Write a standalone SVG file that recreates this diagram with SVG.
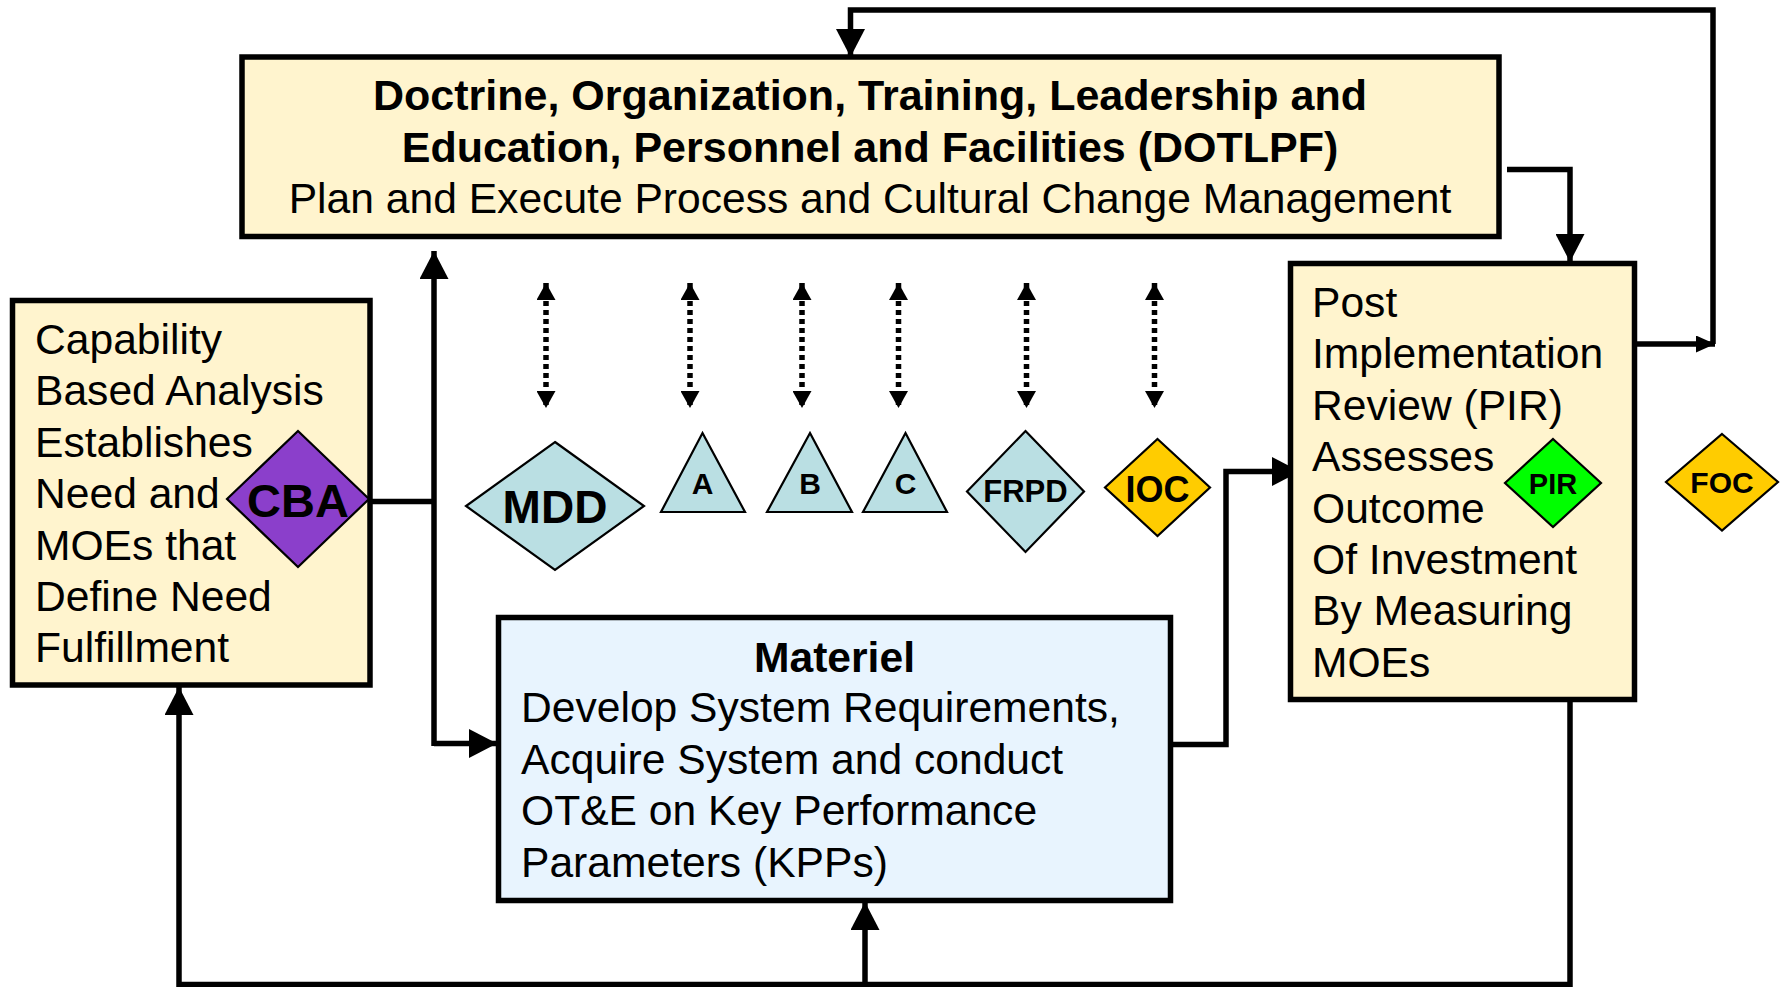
<svg xmlns="http://www.w3.org/2000/svg" width="1784" height="987" viewBox="0 0 1784 987">
<defs>
<marker id="ah" markerUnits="userSpaceOnUse" markerWidth="29" markerHeight="29" refX="28" refY="14.5" orient="auto" viewBox="0 0 29 29">
<path d="M0,0 L28,14.5 L0,29 z" fill="#000"/>
</marker>
<marker id="ahs" markerUnits="userSpaceOnUse" markerWidth="19" markerHeight="17" refX="19" refY="8.5" orient="auto" viewBox="0 0 19 17">
<path d="M0,0 L19,8.5 L0,17 z" fill="#000"/>
</marker>
<marker id="ahd" markerUnits="userSpaceOnUse" markerWidth="18" markerHeight="19" refX="17" refY="9.5" orient="auto-start-reverse" viewBox="0 0 18 19">
<path d="M0,0 L17,9.5 L0,19 z" fill="#000"/>
</marker>
<style>
.box{stroke:#000;stroke-width:5.5}
.cream{fill:#FFF4CE}
.blue{fill:#E8F4FE}
.con{fill:none;stroke:#000;stroke-width:5.5;stroke-linejoin:miter}
.dot{fill:none;stroke:#000;stroke-width:5.5;stroke-dasharray:5 4}
.sh{stroke:#000;stroke-width:2.2}
.teal{fill:#BADFE3}
.gold{fill:#FFCC00}
.t{font-family:"Liberation Sans",Arial,sans-serif;font-size:42.6px;fill:#000}
.b{font-family:"Liberation Sans",Arial,sans-serif;font-weight:bold;fill:#000;text-anchor:middle}
</style>
</defs>
<rect width="1784" height="987" fill="#fff"/>
<g id="connectors">
<path class="con" d="M1713,344 V10 H850.5 V57" marker-end="url(#ah)"/>
<path class="con" d="M1636,344 H1715" marker-end="url(#ahs)"/>
<path class="con" d="M1507,169.5 H1570 V262" marker-end="url(#ah)"/>
<path class="con" d="M369,501.5 H434"/>
<path class="con" d="M434,746 V251" marker-end="url(#ah)"/>
<path class="con" d="M434,743.5 H497" marker-end="url(#ah)"/>
<path class="con" d="M1170.5,744.5 H1226 V471.5 H1300" marker-end="url(#ah)"/>
<path class="con" d="M1570,700 V984.5 H179 V687" marker-end="url(#ah)"/>
<path class="con" d="M865,984.5 V902" marker-end="url(#ah)"/>
<path class="dot" d="M546,283 V408" marker-start="url(#ahd)" marker-end="url(#ahd)"/>
<path class="dot" d="M690,283 V408" marker-start="url(#ahd)" marker-end="url(#ahd)"/>
<path class="dot" d="M802,283 V408" marker-start="url(#ahd)" marker-end="url(#ahd)"/>
<path class="dot" d="M898.5,283 V408" marker-start="url(#ahd)" marker-end="url(#ahd)"/>
<path class="dot" d="M1026.5,283 V408" marker-start="url(#ahd)" marker-end="url(#ahd)"/>
<path class="dot" d="M1154.5,283 V408" marker-start="url(#ahd)" marker-end="url(#ahd)"/>
</g>
<g id="dotlpf">
<rect class="box cream" x="242" y="57" width="1257" height="179.5"/>
<text class="b" x="870" y="110" font-size="43">Doctrine, Organization, Training, Leadership and</text>
<text class="b" x="870" y="162" font-size="43">Education, Personnel and Facilities (DOTLPF)</text>
<text class="t" x="870" y="213" text-anchor="middle">Plan and Execute Process and Cultural Change Management</text>
</g>
<g id="cba-box">
<rect class="box cream" x="12.5" y="300.5" width="357.5" height="384.5"/>
<text class="t" x="35" y="354">Capability</text>
<text class="t" x="35" y="405.4">Based Analysis</text>
<text class="t" x="35" y="456.8">Establishes</text>
<text class="t" x="35" y="508.2">Need and</text>
<text class="t" x="35" y="559.6">MOEs that</text>
<text class="t" x="35" y="611">Define Need</text>
<text class="t" x="35" y="662.4">Fulfillment</text>
</g>
<g id="cba">
<polygon class="sh" fill="#8B3FCB" points="298,431 369,499 298,567 227,499"/>
<text class="b" x="298" y="517" font-size="47">CBA</text>
</g>
<g id="materiel">
<rect class="box blue" x="498.5" y="617.5" width="672" height="283"/>
<text class="b" x="834.5" y="672" font-size="42.6">Materiel</text>
<text class="t" x="521" y="722">Develop System Requirements,</text>
<text class="t" x="521" y="773.5">Acquire System and conduct</text>
<text class="t" x="521" y="825">OT&amp;E on Key Performance</text>
<text class="t" x="521" y="876.5">Parameters (KPPs)</text>
</g>
<g id="pir-box">
<rect class="box cream" x="1290.5" y="263.5" width="344" height="436"/>
<text class="t" x="1312" y="317">Post</text>
<text class="t" x="1312" y="368.4">Implementation</text>
<text class="t" x="1312" y="419.8">Review (PIR)</text>
<text class="t" x="1312" y="471.2">Assesses</text>
<text class="t" x="1312" y="522.6">Outcome</text>
<text class="t" x="1312" y="574">Of Investment</text>
<text class="t" x="1312" y="625.4">By Measuring</text>
<text class="t" x="1312" y="676.8">MOEs</text>
</g>
<g id="mdd">
<polygon class="sh teal" points="555,442 644,506 555,570 466,506"/>
<text class="b" x="555" y="523" font-size="46">MDD</text>
</g>
<g id="a">
<polygon class="sh teal" points="702.5,433 745,512 661,512"/>
<text class="b" x="702.5" y="494" font-size="30">A</text>
</g>
<g id="b">
<polygon class="sh teal" points="810,433 852,512 767,512"/>
<text class="b" x="810" y="494" font-size="30">B</text>
</g>
<g id="c">
<polygon class="sh teal" points="905.5,433 947,512 863,512"/>
<text class="b" x="905.5" y="494" font-size="30">C</text>
</g>
<g id="frpd">
<polygon class="sh teal" points="1025.5,431 1084,491.5 1025.5,552 967,491.5"/>
<text class="b" x="1025.5" y="502" font-size="31">FRPD</text>
</g>
<g id="ioc">
<polygon class="sh gold" points="1157.5,439 1210,487.5 1157.5,536 1105,487.5"/>
<text class="b" x="1157.5" y="502" font-size="36">IOC</text>
</g>
<g id="pir">
<polygon class="sh" fill="#00FF00" points="1553,439 1601,483 1553,527 1505,483"/>
<text class="b" x="1553" y="494" font-size="29">PIR</text>
</g>
<g id="foc">
<polygon class="sh gold" points="1722,434 1778,482 1722,530.5 1666,482"/>
<text class="b" x="1722" y="493" font-size="30">FOC</text>
</g>
</svg>
